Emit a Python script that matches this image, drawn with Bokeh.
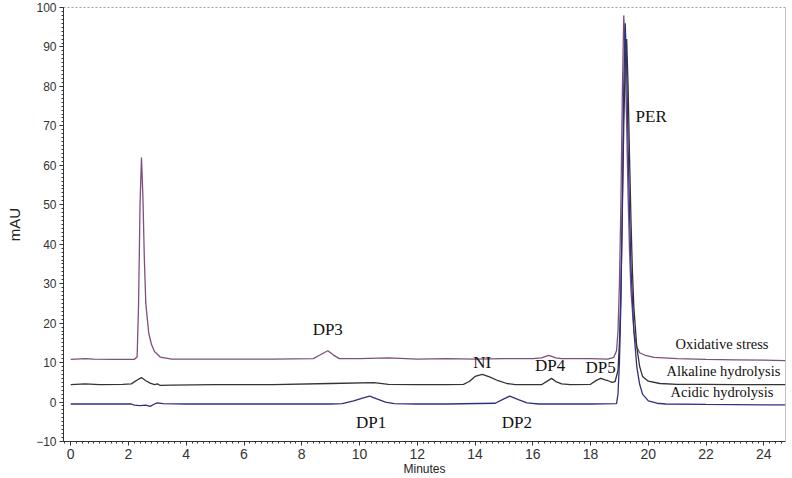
from bokeh.plotting import figure
from bokeh.models import SingleIntervalTicker, Span, Range1d, Label
from bokeh.embed import file_html
from bokeh.resources import INLINE

# ---- data ----
ox_t = [0, 0.5, 0.8, 1.5, 2.2, 2.3, 2.35, 2.4, 2.45, 2.5, 2.55, 2.6, 2.7, 2.8, 2.9, 3.1, 3.5, 5, 7, 8.4, 8.6,
        8.9, 9.1, 9.3, 10, 11, 12, 13, 14, 15, 16, 16.3, 16.55, 16.8, 17, 18, 18.6, 18.8, 18.9, 18.95, 19.0,
        19.05, 19.1, 19.15, 19.2, 19.25, 19.3, 19.35, 19.4, 19.5, 19.6, 19.7, 19.9, 20.2, 21, 22, 23, 24, 24.75]
ox_v = [10.8, 11.0, 10.9, 10.8, 10.8, 11.5, 25, 50, 62, 52, 36, 25, 17.5, 14.5, 12.8, 11.4, 10.9, 10.9, 10.9, 11.0, 11.8,
        13.0, 11.9, 11.0, 11.0, 11.2, 10.9, 11.0, 10.9, 11.0, 11.0, 11.2, 11.8, 11.2, 11.0, 11.0, 10.9, 11.3, 13, 18, 30,
        50, 78, 98, 88, 70, 52, 38, 28, 18, 14, 12.5, 11.8, 11.3, 11.0, 10.8, 10.7, 10.6, 10.5]

al_t = [0, 0.5, 1, 1.8, 2.1, 2.3, 2.45, 2.6, 2.75, 2.9, 3.0, 3.1, 3.5, 5, 7, 9, 10.5, 11, 12, 13, 13.6, 13.8, 14.0,
        14.25, 14.5, 14.8, 15.1, 15.4, 16.3, 16.5, 16.65, 16.8, 17.0, 17.3, 18.0, 18.2, 18.35, 18.5, 18.6, 18.75,
        18.85, 18.95, 19.0, 19.05, 19.1, 19.15, 19.2, 19.25, 19.3, 19.35, 19.4, 19.45, 19.5, 19.6, 19.7, 19.8,
        20.0, 20.4, 21, 22, 23, 24, 24.75]
al_v = [4.4, 4.6, 4.4, 4.5, 4.6, 5.6, 6.2, 5.4, 4.8, 4.4, 4.6, 4.2, 4.3, 4.4, 4.4, 4.7, 4.9, 4.5, 4.4, 4.4, 4.5, 5.2, 6.5,
        7.0, 6.4, 5.4, 4.7, 4.4, 4.4, 5.3, 6.0, 5.2, 4.6, 4.4, 4.5, 5.5, 6.0, 5.6, 5.4, 5.0,
        5.2, 8, 15, 28, 48, 70, 86, 92, 80, 62, 46, 33, 24, 14, 9, 6.5,
        5.3, 4.7, 4.5, 4.5, 4.4, 4.4, 4.4]

ac_t = [0, 2.1, 2.2, 2.4, 2.6, 2.75, 2.9, 3.0, 3.2, 4, 9, 9.4, 9.8, 10.1, 10.35, 10.6, 10.9, 11.2, 12, 13, 14.7,
        15.0, 15.2, 15.5, 15.8, 16.2, 17, 18, 18.9, 18.95, 19.0, 19.05, 19.1, 19.15, 19.2, 19.25, 19.3, 19.35,
        19.4, 19.5, 19.6, 19.7, 19.8, 20.0, 20.3, 20.6, 22, 24, 24.75]
ac_v = [-0.5, -0.5, -0.8, -0.9, -0.8, -1.1, -0.5, -0.2, -0.4, -0.5, -0.5, -0.4, 0.3, 1.0, 1.5, 0.8, 0.0, -0.4, -0.5, -0.5, -0.3,
        0.8, 1.5, 0.6, -0.2, -0.5, -0.5, -0.5, -0.4, 2, 10, 25, 50, 80, 96, 85, 65, 48,
        34, 18, 9, 4.5, 2, 0.3, -0.3, -0.5, -0.6, -0.7, -0.7]

peak_names = ["DP3", "NI", "DP4", "DP5", "DP1", "DP2", "PER"]
peak_x = [8.9, 14.25, 16.6, 18.35, 10.4, 15.45, 20.1]
peak_y = [18.5, 10.0, 9.2, 8.7, -5.3, -5.3, 72.5]

trace_names = ["Oxidative stress", "Alkaline hydrolysis", "Acidic hydrolysis"]
trace_lx = [22.55, 22.6, 22.55]
trace_ly = [14.7, 7.8, 2.5]

x_start, x_end = -0.25, 24.75
y_start, y_end = -10, 100

p = figure(width=792, height=478, output_backend="svg", toolbar_location=None,
           x_range=Range1d(x_start, x_end), y_range=Range1d(y_start, y_end),
           min_border_left=63, min_border_right=7, min_border_top=7, min_border_bottom=36)
p.background_fill_color = "white"
p.border_fill_color = "white"
p.outline_line_color = None
p.xgrid.visible = False
p.ygrid.visible = False

p.line(ox_t, ox_v, line_color="#7e4f7e", line_width=1.3)
p.line(al_t, al_v, line_color="#333333", line_width=1.3)
p.line(ac_t, ac_v, line_color="#30307e", line_width=1.3)

for n, x, y in zip(peak_names, peak_x, peak_y):
    p.add_layout(Label(x=x, y=y, text=n, text_font="Liberation Serif", text_font_size="17px",
                       text_align="center", text_baseline="middle", text_color="#111111"))
for n, x, y in zip(trace_names, trace_lx, trace_ly):
    p.add_layout(Label(x=x, y=y, text=n, text_font="Liberation Serif", text_font_size="14.5px",
                       text_align="center", text_baseline="middle", text_color="#111111"))

p.add_layout(Span(location=y_end, dimension="width", line_color="#444444", line_dash="2 2", line_width=1))
p.add_layout(Span(location=x_end, dimension="height", line_color="#888888", line_width=1))

p.xaxis.ticker = SingleIntervalTicker(interval=2, num_minor_ticks=10)
p.yaxis.ticker = SingleIntervalTicker(interval=10, num_minor_ticks=10)
for ax in (p.xaxis, p.yaxis):
    ax.axis_line_color = "#333333"
    ax.major_tick_line_color = "#333333"
    ax.minor_tick_line_color = "#333333"
    ax.major_tick_out = 4
    ax.major_tick_in = 0
    ax.minor_tick_out = 2
    ax.minor_tick_in = 0
    ax.major_label_text_font = "Liberation Sans"
    ax.major_label_text_color = "#333333"
    ax.axis_label_text_font = "Liberation Sans"
    ax.axis_label_text_font_style = "normal"
    ax.axis_label_text_color = "#222222"
p.xaxis.major_label_text_font_size = "14px"
p.yaxis.major_label_text_font_size = "12px"
p.xaxis.axis_label = "Minutes"
p.xaxis.axis_label_text_font_size = "12px"
p.xaxis.major_label_standoff = 3
p.xaxis.axis_label_standoff = 0
p.yaxis.axis_label = "mAU"
p.yaxis.axis_label_text_font_size = "15px"
p.yaxis.major_label_standoff = 3
p.yaxis.axis_label_standoff = 10

open("out.html", "w").write(file_html(p, INLINE))
